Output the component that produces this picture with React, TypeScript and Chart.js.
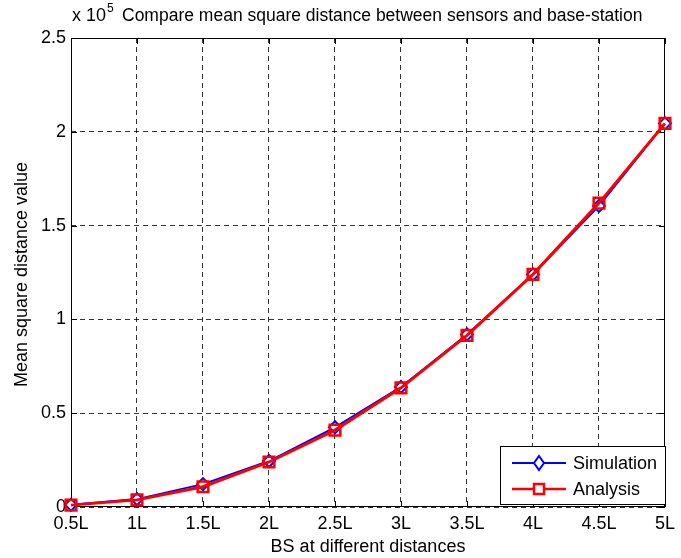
import React, { useEffect, useRef } from "react";
import { Chart, registerables } from "chart.js";

Chart.register(...registerables);

const categories = ["0.5L", "1L", "1.5L", "2L", "2.5L", "3L", "3.5L", "4L", "4.5L", "5L"];
// values in units of 10^5
const simulation = [0.012, 0.042, 0.122, 0.245, 0.425, 0.64, 0.92, 1.24, 1.605, 2.045];
const analysis = [0.01, 0.038, 0.108, 0.24, 0.41, 0.635, 0.915, 1.24, 1.62, 2.045];
const yTicks = [0, 0.5, 1, 1.5, 2, 2.5];

const titleText = "Compare mean square distance between sensors and base-station";
const xTitle = "BS at different distances";
const yTitle = "Mean square distance value";
const FONT = "Liberation Sans, Arial, sans-serif";
const FS = 18;

const overlay = {
  id: "overlay",
  beforeDatasetsDraw(chart: any) {
    const { ctx, chartArea: a } = chart;
    ctx.save();
    ctx.strokeStyle = "#000";
    ctx.lineWidth = 1;
    ctx.setLineDash([]);
    ctx.strokeRect(a.left + 0.5, a.top + 0.5, a.right - a.left - 1, a.bottom - a.top - 1);
    const xs = chart.scales.x;
    const ys = chart.scales.y;
    ctx.beginPath();
    for (let i = 0; i < categories.length; i++) {
      const px = Math.round(xs.getPixelForValue(i)) + 0.5;
      ctx.moveTo(px, a.bottom);
      ctx.lineTo(px, a.bottom - 6);
      ctx.moveTo(px, a.top);
      ctx.lineTo(px, a.top + 6);
    }
    for (const v of yTicks) {
      const py = Math.round(ys.getPixelForValue(v)) + 0.5;
      ctx.moveTo(a.left, py);
      ctx.lineTo(a.left + 6, py);
      ctx.moveTo(a.right, py);
      ctx.lineTo(a.right - 6, py);
    }
    ctx.stroke();
    ctx.restore();
  },
  afterDraw(chart: any) {
    const { ctx, chartArea: a } = chart;
    ctx.save();
    ctx.fillStyle = "#000";
    ctx.textBaseline = "alphabetic";
    ctx.textAlign = "left";
    ctx.font = `${FS}px ${FONT}`;
    ctx.fillText("x 10", 72, 21);
    const w10 = ctx.measureText("x 10").width;
    ctx.font = `12px ${FONT}`;
    ctx.fillText("5", 73 + w10, 12);
    ctx.font = `17.5px ${FONT}`;
    ctx.fillText(titleText, 122, 21);
    // axis titles
    ctx.font = `${FS}px ${FONT}`;
    ctx.textAlign = "center";
    ctx.fillText(xTitle, (a.left + a.right) / 2, 552);
    ctx.save();
    ctx.translate(22, (a.top + a.bottom) / 2 + 2);
    ctx.rotate(-Math.PI / 2);
    ctx.textBaseline = "middle";
    ctx.fillText(yTitle, 0, 0);
    ctx.restore();

    // legend
    const lx = 500, ly = 446, lw = 165, lh = 58;
    ctx.fillStyle = "#fff";
    ctx.fillRect(lx, ly, lw, lh);
    ctx.strokeStyle = "#000";
    ctx.lineWidth = 1;
    ctx.strokeRect(lx + 0.5, ly + 0.5, lw, lh);
    const rows = [
      { label: "Simulation", color: "#0000ff", y: 463, marker: "diamond" },
      { label: "Analysis", color: "#ff0000", y: 489, marker: "square" },
    ];
    for (const r of rows) {
      ctx.strokeStyle = r.color;
      ctx.lineWidth = r.marker === "square" ? 2.5 : 2;
      ctx.beginPath();
      ctx.moveTo(512, r.y);
      ctx.lineTo(566, r.y);
      ctx.stroke();
      const cx = 539;
      ctx.fillStyle = "#fff";
      ctx.beginPath();
      if (r.marker === "diamond") {
        ctx.moveTo(cx, r.y - 7);
        ctx.lineTo(cx + 5, r.y);
        ctx.lineTo(cx, r.y + 7);
        ctx.lineTo(cx - 5, r.y);
        ctx.closePath();
      } else {
        ctx.rect(cx - 5, r.y - 5, 10, 10);
      }
      ctx.fill();
      ctx.stroke();
      ctx.fillStyle = "#000";
      ctx.textAlign = "left";
      ctx.textBaseline = "middle";
      ctx.font = `${FS}px ${FONT}`;
      ctx.fillText(r.label, 573, r.y + 1);
    }
    ctx.restore();
  },
};

export default function App() {
  const ref = useRef<HTMLCanvasElement>(null);
  useEffect(() => {
    const chart = new Chart(ref.current!, {
      type: "line",
      data: {
        labels: categories,
        datasets: [
          {
            label: "Simulation",
            data: simulation,
            borderColor: "#0000ff",
            backgroundColor: "#ffffff",
            borderWidth: 2,
            pointStyle: "rectRot",
            pointRadius: 6,
            pointBorderWidth: 2,
            pointBorderColor: "#0000ff",
            pointBackgroundColor: "#ffffff",
            tension: 0,
            order: 2,
            clip: false as any,
          },
          {
            label: "Analysis",
            data: analysis,
            borderColor: "#ff0000",
            backgroundColor: "#ffffff",
            borderWidth: 3,
            pointStyle: "rect",
            pointRadius: 7.5,
            pointBorderWidth: 2.5,
            pointBorderColor: "#ff0000",
            pointBackgroundColor: "rgba(255,255,255,0)",
            tension: 0,
            order: 1,
            clip: false as any,
          },
        ],
      },
      options: {
        animation: false,
        responsive: false,
        layout: { padding: { left: 0, right: 10, top: 38, bottom: 0 } },
        plugins: { legend: { display: false }, tooltip: { enabled: false }, title: { display: false } },
        scales: {
          x: {
            type: "category",
            offset: false,
            grid: { color: "rgba(0,0,0,0.8)", lineWidth: 1, drawTicks: false },
            border: { display: false, dash: [5, 4] },
            ticks: { color: "#000", font: { family: FONT, size: FS }, padding: 6, maxRotation: 0, autoSkip: false },
            afterFit: (s: any) => { s.height = 51; },
          },
          y: {
            type: "linear",
            min: 0,
            max: 2.5,
            grid: { color: "rgba(0,0,0,0.8)", lineWidth: 1, drawTicks: false },
            border: { display: false, dash: [5, 4] },
            ticks: {
              color: "#000",
              font: { family: FONT, size: FS },
              padding: 5,
              stepSize: 0.5,
              callback: (v: any) => String(v),
            },
            afterFit: (s: any) => { s.width = 71; },
          },
        },
      },
      plugins: [overlay],
    } as any);
    return () => chart.destroy();
  }, []);
  return (
    <div style={{ position: "absolute", left: 0, top: 0, width: 681, height: 558, background: "#fff" }}>
      <canvas ref={ref} width={681} height={558} />
    </div>
  );
}
